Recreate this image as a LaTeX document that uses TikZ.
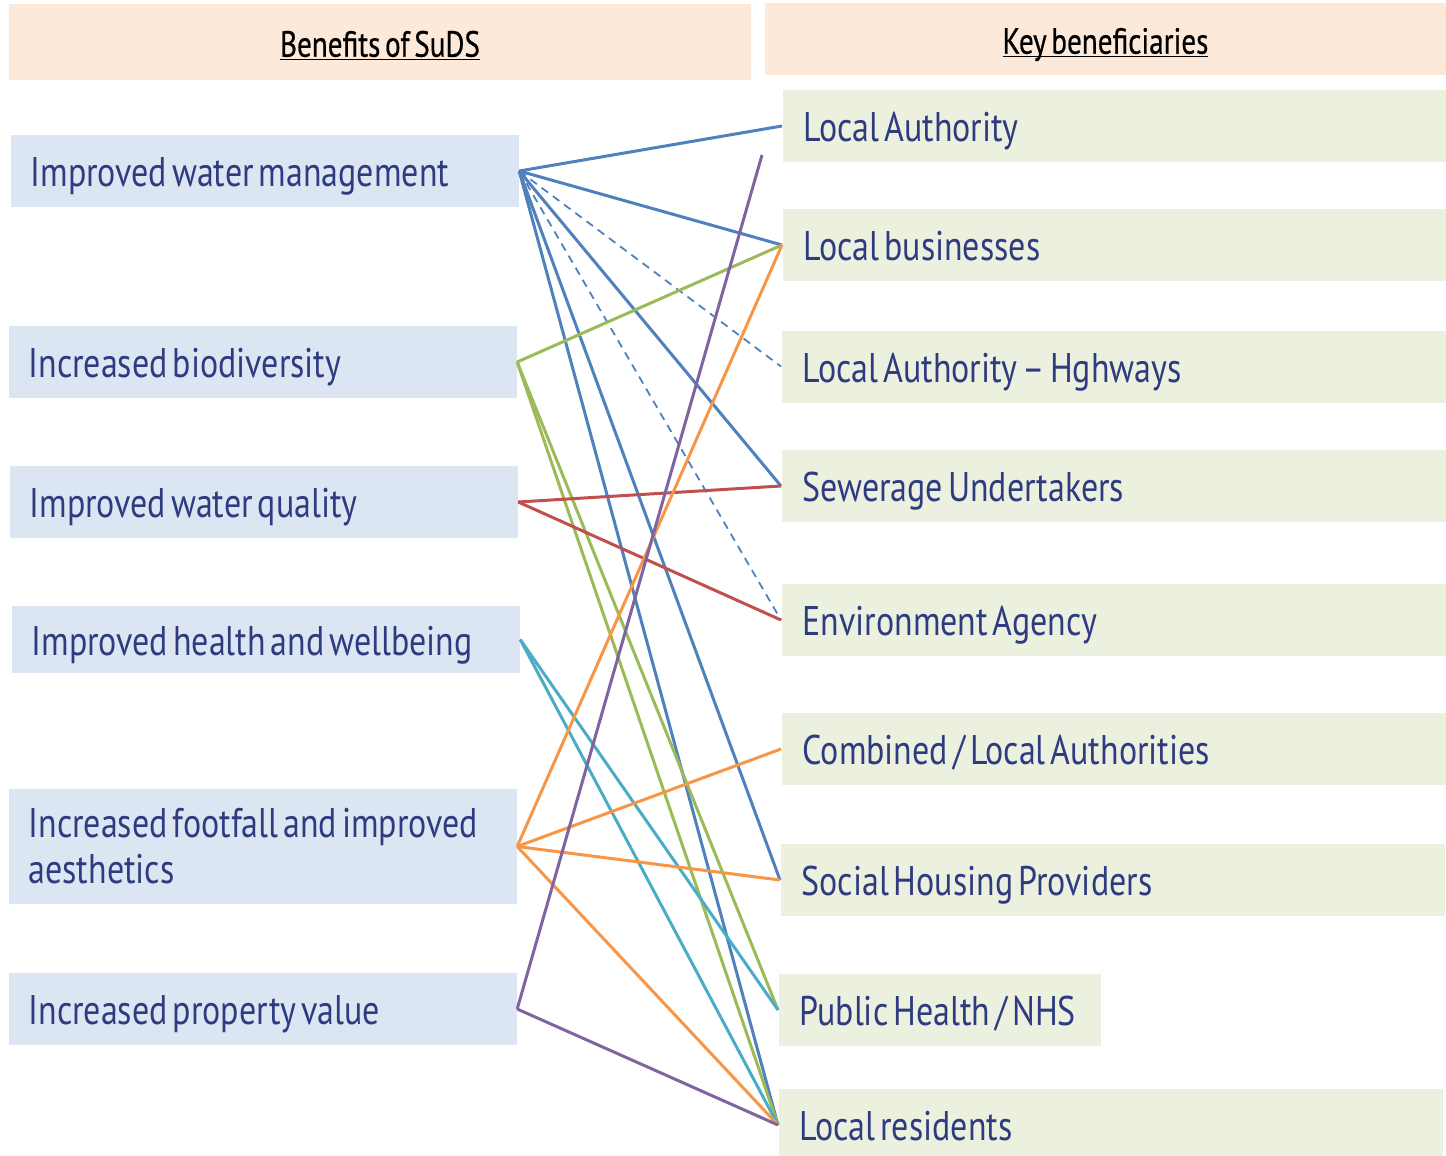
\documentclass[tikz,border=0pt]{standalone}
\usepackage{fontspec}
\usepackage{tikz}
\usetikzlibrary{positioning}
\newfontfamily\dinfont[FakeStretch=0.82, WordSpace=0.55]{PT Sans}
\newfontfamily\headfont[FakeStretch=0.8, WordSpace=0.6, FakeBold=0.6]{PT Sans}
\newcommand{\headline}[1]{\setbox0\hbox{#1}\rlap{\rule[-1.8pt]{\wd0}{0.6pt}}\box0}
\definecolor{textblue}{HTML}{2E3B80}
\definecolor{benefitfill}{HTML}{DCE6F2}
\definecolor{partyfill}{HTML}{EBF1DE}
\definecolor{headfill}{HTML}{FDE9D9}
\definecolor{wmblue}{HTML}{4F81BD}
\definecolor{biogreen}{HTML}{9BBB59}
\definecolor{wqred}{HTML}{C0504D}
\definecolor{hwteal}{HTML}{4BACC6}
\definecolor{fforange}{HTML}{F79646}
\definecolor{pvpurple}{HTML}{8064A2}

\begin{document}
\begin{tikzpicture}[x=0.5pt, y=-0.5pt, semithick]
\tikzstyle{boxtext}=[text=textblue, anchor=west, inner ysep=0pt, align=left, font=\dinfont\fontsize{20.7}{23}\selectfont, execute at begin node={\spaceskip=0pt\xspaceskip=0pt}]
\tikzstyle{benefitbox}=[boxtext, fill=benefitfill, text width=234pt, inner xsep=10pt]
\tikzstyle{benefit}=[benefitbox, minimum height=36pt, text height=15.7pt, text depth=0pt]
\tikzstyle{party}=[boxtext, fill=partyfill, text width=311pt, inner xsep=10.5pt, minimum height=36pt, text height=15.7pt, text depth=0pt]
\tikzstyle{heading}=[fill=headfill, text=black, inner sep=0pt, text height=14.7pt, text depth=0pt, font=\headfont\fontsize{18.2}{20}\selectfont]
\tikzstyle{link}=[line width=1.5pt]
\tikzstyle{maybe}=[line width=0.9pt, dash pattern=on 4pt off 3pt]
\useasboundingbox (0,0) rectangle (1446,1156);

% headings
\node[heading, minimum width=371pt, minimum height=38pt] (hb) at (380,42) {\headline{Benefits of SuDS}};
\node[heading, minimum width=340.5pt, minimum height=36pt] (hk) at (1105.5,39) {\headline{Key beneficiaries}};

% benefits
\node[benefit]    (water)    at (10,171)    {Improved water management};
\node[benefit]    (bio)      at (8,362)     {Increased biodiversity};
\node[benefit]    (quality)  at (9,502)     {Improved water quality};
\node[benefit, minimum height=33.5pt] (health) at (11,639.5) {Improved health and wellbeing};
\node[benefitbox, minimum height=57.5pt] (footfall) at (8,846.5) {Increased footfall and improved\\aesthetics};
\node[benefit]    (property) at (8,1009)    {Increased property value};

% beneficiaries
\node[party]      (la)       at (782,126)   {Local Authority};
\node[party]      (lb)       at (782,245)   {Local businesses};
\node[party]      (hwy)      at (781,366.5) {Local Authority – Hghways};
\node[party]      (sew)      at (781,486)   {Sewerage Undertakers};
\node[party]      (ea)       at (781,620)   {Environment Agency};
\node[party]      (comb)     at (781,749)   {Combined / Local Authorities};
\node[party]      (shp)      at (780,880)   {Social Housing Providers};
\node[party, text width=140pt] (nhs) at (778,1010) {Public Health / NHS};
\node[party]      (res)      at (778,1125)  {Local residents};
\coordinate (pvend) at (762,155);

\path
(water.east)    edge[link, draw=wmblue]     (la.west)
(water.east)    edge[link, draw=wmblue]     (lb.west)
(water.east)    edge[maybe, draw=wmblue]    (hwy.west)
(water.east)    edge[link, draw=wmblue]     (sew.west)
(water.east)    edge[maybe, draw=wmblue]    (ea.west)
(water.east)    edge[link, draw=wmblue]     (shp.west)
(water.east)    edge[link, draw=wmblue]     (res.west)
(bio.east)      edge[link, draw=biogreen]   (lb.west)
(bio.east)      edge[link, draw=biogreen]   (nhs.west)
(bio.east)      edge[link, draw=biogreen]   (res.west)
(quality.east)  edge[link, draw=wqred]      (sew.west)
(quality.east)  edge[link, draw=wqred]      (ea.west)
(health.east)   edge[link, draw=hwteal]     (nhs.west)
(health.east)   edge[link, draw=hwteal]     (res.west)
(footfall.east) edge[link, draw=fforange]   (lb.west)
(footfall.east) edge[link, draw=fforange]   (comb.west)
(footfall.east) edge[link, draw=fforange]   (shp.west)
(footfall.east) edge[link, draw=fforange]   (res.west)
(property.east) edge[link, draw=pvpurple]   (pvend)
(property.east) edge[link, draw=pvpurple]   (res.west);
\end{tikzpicture}
\end{document}
